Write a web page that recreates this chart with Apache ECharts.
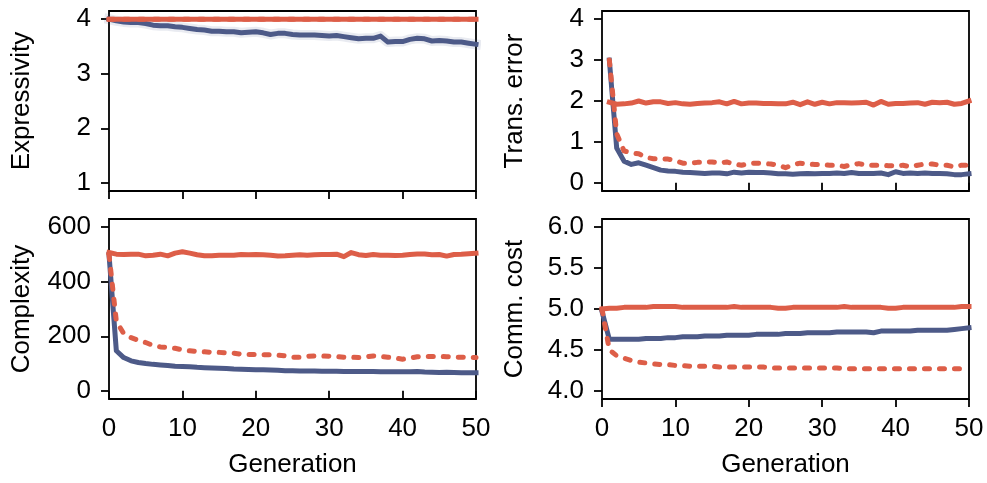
<!DOCTYPE html>
<html>
<head>
<meta charset="utf-8">
<script src="https://cdn.jsdelivr.net/npm/echarts@6/dist/echarts.min.js"></script>
<style>
  html, body { margin: 0; padding: 0; background: #fff; }
  #chart { width: 987px; height: 483px; }
</style>
</head>
<body>
<div id="chart"></div>
<script>
// ---------- data ----------
const generations = [0,1,2,3,4,5,6,7,8,9,10,11,12,13,14,15,16,17,18,19,20,21,22,23,24,25,26,27,28,29,30,31,32,33,34,35,36,37,38,39,40,41,42,43,44,45,46,47,48,49,50];
const generationsFrom1 = [1,2,3,4,5,6,7,8,9,10,11,12,13,14,15,16,17,18,19,20,21,22,23,24,25,26,27,28,29,30,31,32,33,34,35,36,37,38,39,40,41,42,43,44,45,46,47,48,49,50];

// Expressivity
const exprBlue = [4.00,3.97,3.95,3.94,3.94,3.92,3.89,3.88,3.88,3.86,3.85,3.83,3.81,3.80,3.78,3.78,3.77,3.77,3.75,3.76,3.77,3.75,3.72,3.74,3.74,3.72,3.71,3.71,3.71,3.70,3.69,3.70,3.68,3.66,3.64,3.65,3.65,3.69,3.58,3.59,3.59,3.63,3.65,3.64,3.60,3.61,3.60,3.58,3.58,3.56,3.54];
const exprRed = [4,4,4,4,4,4,4,4,4,4,4,4,4,4,4,4,4,4,4,4,4,4,4,4,4,4,4,4,4,4,4,4,4,4,4,4,4,4,4,4,4,4,4,4,4,4,4,4,4,4,4];
const exprRedDashed = [4,4,4,4,4,4,4,4,4,4,4,4,4,4,4,4,4,4,4,4,4,4,4,4,4,4,4,4,4,4,4,4,4,4,4,4,4,4,4,4,4,4,4,4,4,4,4,4,4,4,4];

// Transmission error (generations 1..50)
const transBlue = [3.00,0.85,0.53,0.45,0.49,0.43,0.37,0.31,0.29,0.28,0.26,0.25,0.24,0.23,0.24,0.24,0.22,0.26,0.24,0.26,0.25,0.25,0.24,0.22,0.22,0.21,0.22,0.23,0.22,0.23,0.23,0.24,0.23,0.25,0.23,0.23,0.23,0.24,0.20,0.27,0.23,0.24,0.23,0.24,0.23,0.23,0.22,0.20,0.20,0.22];
const transRed = [1.97,1.92,1.93,1.95,2.00,1.95,1.98,1.98,1.94,1.96,1.93,1.92,1.94,1.95,1.96,1.98,1.93,1.99,1.93,1.95,1.95,1.94,1.94,1.93,1.93,1.97,1.91,1.98,1.92,1.97,1.93,1.96,1.96,1.95,1.96,1.97,1.90,1.99,1.92,1.94,1.94,1.95,1.96,1.92,1.97,1.96,1.97,1.92,1.94,2.00];
const transRedDashed = [3.00,1.20,0.78,0.73,0.71,0.62,0.59,0.59,0.58,0.54,0.48,0.48,0.50,0.50,0.51,0.48,0.51,0.46,0.43,0.47,0.48,0.47,0.46,0.43,0.37,0.44,0.48,0.46,0.45,0.45,0.43,0.43,0.40,0.44,0.47,0.43,0.43,0.43,0.42,0.41,0.43,0.39,0.43,0.46,0.46,0.43,0.43,0.39,0.43,0.43];

// Complexity
const complexBlue = [500,147,122,110,104,100,97,95,93,90,89,88,86,85,84,83,82,80,79,78,77,77,76,75,74,74,73,73,73,72,72,72,71,71,71,71,71,70,70,70,70,70,71,69,68,67,68,67,66,66,66];
const complexRed = [507,501,500,501,501,495,497,501,495,505,510,505,499,495,495,497,497,497,500,499,500,499,497,494,495,497,499,497,499,500,500,501,492,507,499,496,500,497,497,496,497,500,502,502,499,500,494,500,501,503,505];
const complexRedDashed = [500,255,210,195,185,177,166,161,159,156,150,147,144,143,141,141,139,138,134,133,133,132,132,131,128,123,123,126,128,128,127,126,123,123,122,124,128,126,123,120,116,120,125,126,126,126,125,124,123,122,122];

// Communicative cost
const commBlue = [4.97,4.63,4.63,4.63,4.63,4.63,4.64,4.64,4.64,4.65,4.65,4.66,4.66,4.66,4.67,4.67,4.67,4.68,4.68,4.68,4.68,4.69,4.69,4.69,4.69,4.70,4.70,4.70,4.71,4.71,4.71,4.71,4.72,4.72,4.72,4.72,4.72,4.71,4.73,4.73,4.73,4.73,4.73,4.74,4.74,4.74,4.74,4.74,4.75,4.76,4.77];
const commRed = [5.00,5.01,5.01,5.02,5.02,5.02,5.02,5.03,5.03,5.03,5.03,5.02,5.02,5.02,5.02,5.02,5.02,5.02,5.03,5.02,5.02,5.02,5.02,5.02,5.01,5.01,5.02,5.02,5.02,5.02,5.02,5.02,5.02,5.03,5.02,5.02,5.02,5.02,5.02,5.01,5.01,5.02,5.02,5.02,5.02,5.02,5.02,5.02,5.02,5.03,5.03];
const commRedDashed = [5.00,4.50,4.43,4.40,4.37,4.35,4.34,4.33,4.32,4.32,4.31,4.31,4.30,4.30,4.30,4.30,4.29,4.29,4.29,4.29,4.29,4.29,4.29,4.28,4.28,4.28,4.28,4.28,4.28,4.28,4.28,4.28,4.28,4.27,4.27,4.27,4.27,4.27,4.27,4.27,4.27,4.27,4.27,4.27,4.27,4.27,4.27,4.27,4.27,4.27,4.27];

// Axis ticks / labels
const xTicks = [0, 10, 20, 30, 40, 50];
const exprTicks = [1, 2, 3, 4];
const transTicks = [0, 1, 2, 3, 4];
const complexTicks = [0, 200, 400, 600];
const commTicks = [4.0, 4.5, 5.0, 5.5, 6.0];
const yNames = ['Expressivity', 'Trans. error', 'Complexity', 'Comm. cost'];
const xName = 'Generation';

// ---------- styling ----------
const BLUE = '#4d5a88';
const RED = '#dd5e48';
const FONT = 'Liberation Sans, Arial, Helvetica, sans-serif';
const FS = 26;

const grids = [
  { left: 109, top: 11, width: 367, height: 180 },
  { left: 602, top: 11, width: 367, height: 180 },
  { left: 109, top: 219, width: 367, height: 180 },
  { left: 602, top: 219, width: 367, height: 180 }
].map(g => Object.assign({ show: true, borderColor: '#000', borderWidth: 1.8, backgroundColor: 'transparent', containLabel: false }, g));

function xAxis(idx, showLabels) {
  return {
    type: 'value', gridIndex: idx, min: 0, max: 50, interval: 10,
    axisLine: { show: false },
    axisTick: { show: true, length: 8, inside: false, customValues: xTicks, lineStyle: { color: '#000', width: 1.8 } },
    axisLabel: { show: showLabels, customValues: xTicks, color: '#000', fontSize: FS, fontFamily: FONT, margin: 17 },
    splitLine: { show: false },
    name: showLabels ? xName : '',
    nameLocation: 'middle', nameGap: 53,
    nameTextStyle: { color: '#000', fontSize: FS, fontFamily: FONT }
  };
}
function yAxis(idx, min, max, ticks, name, gap, fmt) {
  return {
    type: 'value', gridIndex: idx, min: min, max: max,
    axisLine: { show: false },
    axisTick: { show: true, length: 8, inside: false, customValues: ticks, lineStyle: { color: '#000', width: 1.8 } },
    axisLabel: { show: true, customValues: ticks, color: '#000', fontSize: FS, fontFamily: FONT, margin: 18,
      formatter: fmt || (v => String(v)) },
    splitLine: { show: false },
    name: name, nameLocation: 'middle', nameRotate: 90, nameGap: gap,
    nameTextStyle: { color: '#000', fontSize: FS, fontFamily: FONT }
  };
}

function pairs(xs, ys) { return xs.map((x, i) => [x, ys[i]]); }
function solid(idx, xs, ys, color, z) {
  return { type: 'line', xAxisIndex: idx, yAxisIndex: idx, data: pairs(xs, ys), showSymbol: false, symbol: 'none',
    lineStyle: { color: color, width: 5, cap: 'square', join: 'round' }, z: z, silent: true };
}
function dashed(idx, xs, ys, color, z) {
  return { type: 'line', xAxisIndex: idx, yAxisIndex: idx, data: pairs(xs, ys), showSymbol: false, symbol: 'none',
    lineStyle: { color: color, width: 5, type: [5, 10], cap: 'round', join: 'round' }, z: z, silent: true };
}
function halo(idx, xs, ys, color, z) {
  return { type: 'line', xAxisIndex: idx, yAxisIndex: idx, data: pairs(xs, ys), showSymbol: false, symbol: 'none',
    lineStyle: { color: color, width: 10, cap: 'square', join: 'round' }, z: z, silent: true };
}

const option = {
  animation: false,
  backgroundColor: '#fff',
  grid: grids,
  xAxis: [xAxis(0, false), xAxis(1, false), xAxis(2, true), xAxis(3, true)],
  yAxis: [
    yAxis(0, 0.85, 4.15, exprTicks, yNames[0], 74),
    yAxis(1, -0.2, 4.2, transTicks, yNames[1], 74),
    yAxis(2, -30, 630, complexTicks, yNames[2], 74),
    yAxis(3, 3.9, 6.1, commTicks, yNames[3], 74, v => v.toFixed(1))
  ],
  series: [
    halo(0, generations, exprBlue, 'rgba(77,90,136,0.12)', 1),
    solid(0, generations, exprBlue, BLUE, 2),
    solid(0, generations, exprRed, RED, 3),
    dashed(0, generations, exprRedDashed, RED, 4),

    solid(1, generationsFrom1, transBlue, BLUE, 2),
    solid(1, generationsFrom1, transRed, RED, 3),
    dashed(1, generationsFrom1, transRedDashed, RED, 4),

    solid(2, generations, complexBlue, BLUE, 2),
    solid(2, generations, complexRed, RED, 3),
    dashed(2, generations, complexRedDashed, RED, 4),

    solid(3, generations, commBlue, BLUE, 2),
    solid(3, generations, commRed, RED, 3),
    dashed(3, generations, commRedDashed, RED, 4)
  ]
};

const chart = echarts.init(document.getElementById('chart'), null, { renderer: 'canvas' });
chart.setOption(option);
</script>
</body>
</html>
